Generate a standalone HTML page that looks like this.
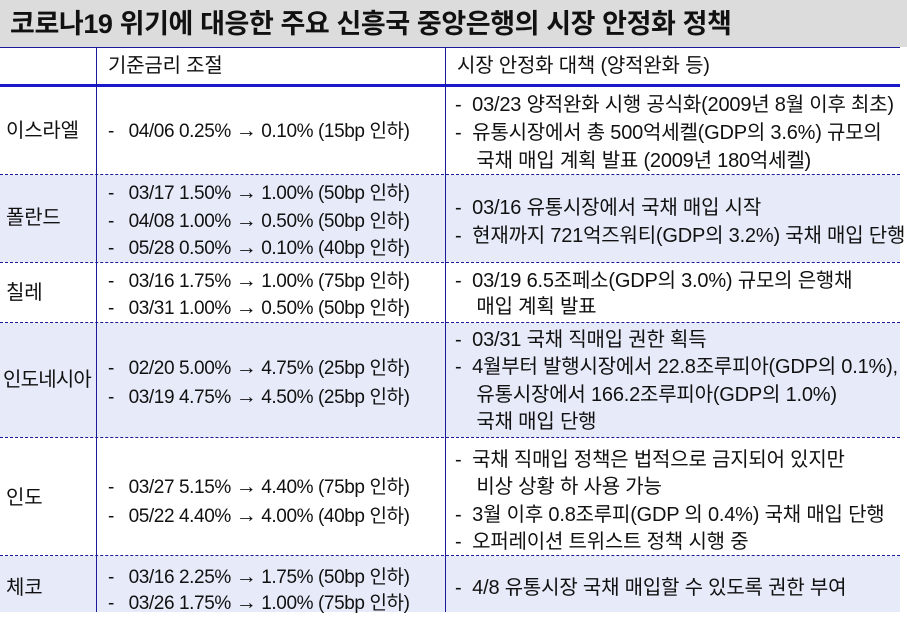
<!DOCTYPE html>
<html><head><meta charset="utf-8"><style>
body{margin:0;width:907px;height:618px;background:#fff;position:relative;overflow:hidden;font-family:"Liberation Sans","Noto Sans CJK KR","NanumGothic",sans-serif;color:#111}
div{position:absolute}
.t{font-size:19px;line-height:24px;white-space:nowrap;letter-spacing:-0.6px}
.m{font-size:20px;letter-spacing:-0.2px}
.r{letter-spacing:-0.4px}
.a{font-size:21px}
.bg{background:#e7ebf9}
.hl{height:1px;border-top:1px dashed #1a1a9a;left:0;width:900px}
.vl{width:1px;background:#1a1a9a}
</style></head><body>
<div style="left:0;top:0;width:907px;height:47px;background:#dcdcdc"></div>
<div class="t" style="left:10px;top:8px;font-size:27px;line-height:32px;font-weight:bold;letter-spacing:-0.4px">코로나19 위기에 대응한 주요 신흥국 중앙은행의 시장 안정화 정책</div>
<div style="left:0;top:47px;width:900px;height:1px;background:#1a1a9a"></div>
<div class="t m" style="left:108px;top:54px">기준금리 조절</div>
<div class="t m" style="left:457px;top:54px">시장 안정화 대책 (양적완화 등)</div>
<div style="left:0;top:84px;width:900px;height:3px;background:#1a1acc"></div>

<div class="bg" style="left:0;top:175px;width:900px;height:87px"></div>
<div class="bg" style="left:0;top:323px;width:900px;height:114px"></div>
<div class="bg" style="left:0;top:556px;width:900px;height:56px"></div>
<div class="hl" style="top:174px"></div>
<div class="hl" style="top:262px"></div>
<div class="hl" style="top:322px"></div>
<div class="hl" style="top:437px"></div>
<div class="hl" style="top:555px"></div>
<div class="vl" style="left:96px;top:47px;height:565px"></div>
<div class="vl" style="left:445px;top:47px;height:565px"></div>

<div class="t m" style="left:6px;top:119px">이스라엘</div>
<div class="t r" style="left:108px;top:119px">-&nbsp;&nbsp; 04/06 0.25% <span class="a">→</span> 0.10% (15bp 인하)</div>
<div class="t m" style="left:455px;top:91px;line-height:28px">-&nbsp; 03/23 양적완화 시행 공식화(2009년 8월 이후 최초)<br>-&nbsp; 유통시장에서 총 500억세켈(GDP의 3.6%) 규모의<br>&nbsp;&nbsp;&nbsp; 국채 매입 계획 발표 (2009년 180억세켈)</div>

<div class="t m" style="left:6px;top:206px">폴란드</div>
<div class="t r" style="left:108px;top:180px;line-height:26.5px">-&nbsp;&nbsp; 03/17 1.50% <span class="a">→</span> 1.00% (50bp 인하)<br>-&nbsp;&nbsp; 04/08 1.00% <span class="a">→</span> 0.50% (50bp 인하)<br>-&nbsp;&nbsp; 05/28 0.50% <span class="a">→</span> 0.10% (40bp 인하)</div>
<div class="t m" style="left:455px;top:194px;line-height:28px">-&nbsp; 03/16 유통시장에서 국채 매입 시작<br>-&nbsp; 현재까지 721억즈워티(GDP의 3.2%) 국채 매입 단행</div>

<div class="t m" style="left:6px;top:281px">칠레</div>
<div class="t r" style="left:108px;top:268px;line-height:26px">-&nbsp;&nbsp; 03/16 1.75% <span class="a">→</span> 1.00% (75bp 인하)<br>-&nbsp;&nbsp; 03/31 1.00% <span class="a">→</span> 0.50% (50bp 인하)</div>
<div class="t m" style="left:455px;top:268px;line-height:26px">-&nbsp; 03/19 6.5조페소(GDP의 3.0%) 규모의 은행채<br>&nbsp;&nbsp;&nbsp; 매입 계획 발표</div>

<div class="t m" style="left:3px;top:368px;letter-spacing:-0.8px">인도네시아</div>
<div class="t r" style="left:108px;top:354px;line-height:28px">-&nbsp;&nbsp; 02/20 5.00% <span class="a">→</span> 4.75% (25bp 인하)<br>-&nbsp;&nbsp; 03/19 4.75% <span class="a">→</span> 4.50% (25bp 인하)</div>
<div class="t m" style="left:455px;top:327px;line-height:27.3px">-&nbsp; 03/31 국채 직매입 권한 획득<br>-&nbsp; 4월부터 발행시장에서 22.8조루피아(GDP의 0.1%),<br>&nbsp;&nbsp;&nbsp; 유통시장에서 166.2조루피아(GDP의 1.0%)<br>&nbsp;&nbsp;&nbsp; 국채 매입 단행</div>

<div class="t m" style="left:6px;top:486px">인도</div>
<div class="t r" style="left:108px;top:473px;line-height:28px">-&nbsp;&nbsp; 03/27 5.15% <span class="a">→</span> 4.40% (75bp 인하)<br>-&nbsp;&nbsp; 05/22 4.40% <span class="a">→</span> 4.00% (40bp 인하)</div>
<div class="t m" style="left:455px;top:447px;line-height:27.3px">-&nbsp; 국채 직매입 정책은 법적으로 금지되어 있지만<br>&nbsp;&nbsp;&nbsp; 비상 상황 하 사용 가능<br>-&nbsp; 3월 이후 0.8조루피(GDP 의 0.4%) 국채 매입 단행<br>-&nbsp; 오퍼레이션 트위스트 정책 시행 중</div>

<div class="t m" style="left:6px;top:576px">체코</div>
<div class="t r" style="left:108px;top:564px;line-height:25px">-&nbsp;&nbsp; 03/16 2.25% <span class="a">→</span> 1.75% (50bp 인하)<br>-&nbsp;&nbsp; 03/26 1.75% <span class="a">→</span> 1.00% (75bp 인하)</div>
<div class="t m" style="left:455px;top:576px">-&nbsp; 4/8 유통시장 국채 매입할 수 있도록 권한 부여</div>
</body></html>
